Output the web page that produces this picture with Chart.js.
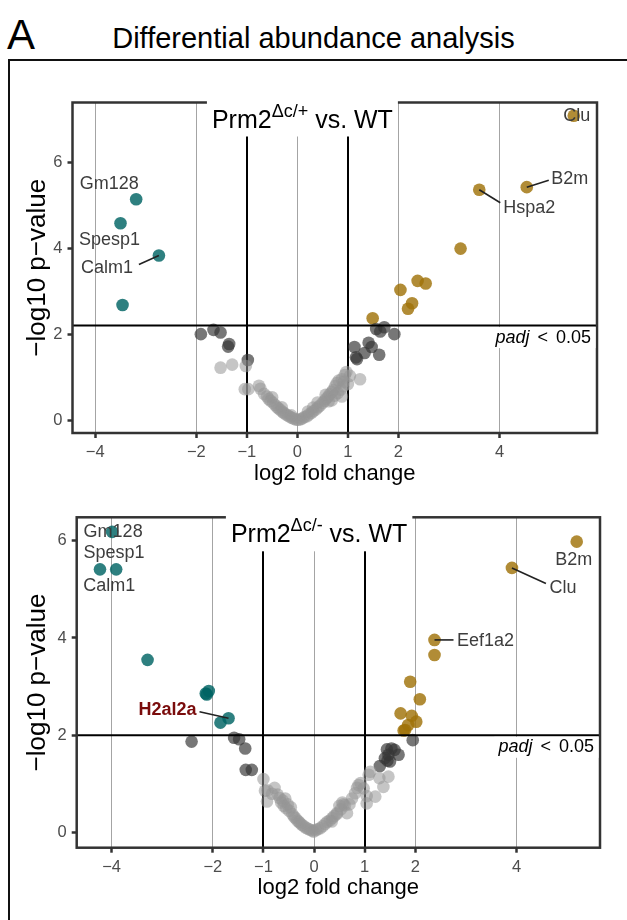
<!DOCTYPE html>
<html>
<head>
<meta charset="utf-8">
<script src="https://cdn.jsdelivr.net/npm/chart.js@4.4.1/dist/chart.umd.min.js"></script>
<style>
  body { margin: 0; width: 627px; height: 920px; overflow: hidden; background: #fff;
         font-family: "Liberation Sans", Arial, sans-serif; position: relative; }
  #tag { position: absolute; left: 7px; top: 14px; font-size: 42px; line-height: 1; color: #000; }
  #heading { position: absolute; left: 0; width: 627px; top: 24px; text-align: center;
             font-size: 29px; line-height: 1; color: #000; }
  #frame { position: absolute; left: 8px; top: 59px; width: 700px; height: 900px; border: 2.5px solid #111; }
  canvas { position: absolute; }
</style>
</head>
<body>
<div id="tag">A</div>
<div id="heading">Differential abundance analysis</div>
<div id="frame"></div>
<canvas id="het" width="616" height="438" style="left:11px; top:62px;"></canvas>
<canvas id="hom" width="616" height="420" style="left:11px; top:500px;"></canvas>
<script>
const FONT = '"Liberation Sans", Arial, sans-serif';

// axis ticks
const xTickValues = [-4, -2, -1, 0, 1, 2, 4];
const yTickValues = [0, 2, 4, 6];
const fcCutoffs = [-1, 1];

// Prm2 dc/+ vs WT
const hetNsX = [-1.52,-1.29,-1.02,-1.04,-0.97,-0.76,-0.73,-0.66,-0.60,-0.57,-0.53,-0.48,-0.44,-0.40,-0.37,-0.33,-0.29,-0.26,-0.22,-0.18,-0.14,-0.10,-0.06,-0.02,0.02,0.06,0.10,0.14,0.19,0.23,0.28,0.32,0.37,0.41,0.45,0.50,0.54,0.57,0.61,0.64,0.68,0.71,0.75,0.78,0.82,0.88,0.91,0.94,0.97,0.86,0.80,1.04,1.24,0.88,0.68,-0.31,-0.12,0.31,0.21,-0.50,0.40,0.56,0.74,0.92,1.00,0.62];
const hetNsY = [1.23,1.30,1.27,0.73,0.73,0.81,0.74,0.62,0.56,0.50,0.46,0.41,0.36,0.31,0.28,0.24,0.20,0.17,0.14,0.11,0.08,0.06,0.04,0.02,0.02,0.03,0.05,0.08,0.10,0.14,0.18,0.22,0.26,0.31,0.35,0.41,0.46,0.51,0.55,0.61,0.66,0.71,0.80,0.87,0.93,0.96,0.80,1.06,1.13,0.72,0.64,1.04,0.96,0.56,0.47,0.31,0.12,0.30,0.21,0.54,0.42,0.60,0.58,0.90,0.85,0.45];
const hetSigX = [-1.91,-1.66,-1.52,-1.35,-1.37,-0.98,1.56,1.64,1.72,1.92,1.13,1.41,1.47,1.33,1.62,1.16,1.18];
const hetSigY = [2.01,2.11,2.05,1.78,1.72,1.41,2.13,2.07,2.17,2.01,1.71,1.81,1.71,1.57,1.53,1.47,1.43];
const hetDownX = [-3.19,-3.50,-2.74,-3.46];
const hetDownY = [5.15,4.59,3.84,2.69];
const hetDownGenes = ['Gm128','Spesp1','Calm1',''];
const hetUpX = [5.47,4.54,3.60,3.23,2.38,2.54,2.04,2.27,2.19,1.49];
const hetUpY = [7.09,5.43,5.37,4.00,3.25,3.19,3.04,2.73,2.60,2.38];
const hetUpGenes = ['Clu','B2m','Hspa2','','','','','','',''];

// Prm2 dc/- vs WT
const homNsX = [-1.00,-0.97,-0.92,-0.93,-0.83,-0.78,-0.72,-0.68,-0.65,-0.62,-0.60,-0.57,-0.55,-0.52,-0.49,-0.46,-0.43,-0.40,-0.37,-0.33,-0.30,-0.27,-0.24,-0.20,-0.16,-0.12,-0.08,-0.04,-0.01,0.03,0.07,0.12,0.17,0.22,0.26,0.31,0.36,0.40,0.45,0.50,0.53,0.56,0.58,0.61,0.65,0.70,0.75,0.81,0.85,0.88,0.92,0.98,1.04,1.08,1.11,1.21,1.29,1.37,1.47,1.04,0.45,0.35];
const homNsY = [1.10,0.86,0.87,0.64,0.80,0.92,0.78,0.71,0.62,0.66,0.55,0.70,0.50,0.58,0.45,0.52,0.38,0.33,0.30,0.25,0.22,0.19,0.16,0.13,0.10,0.08,0.06,0.04,0.02,0.05,0.07,0.09,0.13,0.18,0.22,0.25,0.30,0.34,0.40,0.55,0.48,0.62,0.58,0.56,0.40,0.58,0.70,0.81,0.92,0.98,1.02,0.91,0.60,1.19,1.25,0.74,1.12,0.94,1.15,0.75,0.38,0.23];
const homSigX = [-2.42,-1.58,-1.48,-1.36,-1.35,-1.23,1.95,1.44,1.53,1.59,1.67,1.47,1.40,1.50,1.30,1.45];
const homSigY = [1.87,1.95,1.92,1.73,1.29,1.29,1.90,1.71,1.73,1.70,1.60,1.60,1.53,1.46,1.37,1.48];
const homDownX = [-3.99,-4.23,-3.91,-3.29,-2.14,-2.08,-2.12,-1.69,-1.85];
const homDownY = [6.18,5.41,5.41,3.55,2.86,2.91,2.84,2.35,2.26];
const homDownGenes = ['Gm128','Spesp1','Calm1','','','','','H2al2a',''];
const homUpX = [5.19,3.91,2.38,2.38,1.90,2.09,1.71,1.93,2.02,1.86,1.80,1.77];
const homUpY = [5.98,5.44,3.96,3.65,3.10,2.74,2.45,2.40,2.28,2.21,2.11,2.10];
const homUpGenes = ['B2m','Clu','Eef1a2','','','','','','','','',''];

// -log10 p cut for padj < 0.05
const hetPadjCut = 2.21;
const homPadjCut = 2.0;

// gene label placement (px offsets from the point)
const hetLabels = [
  { gene: 'Gm128', dx: -27, dy: -15 },
  { gene: 'Spesp1', dx: -11, dy: 17 },
  { gene: 'Calm1', dx: -52, dy: 13, seg: [-20, 9] },
  { gene: 'Clu', dx: 3, dy: 0 },
  { gene: 'B2m', dx: 43, dy: -8, seg: [22, -7] },
  { gene: 'Hspa2', dx: 50, dy: 18, seg: [21, 13] }
];
const homLabels = [
  { gene: 'Gm128', dx: 1, dy: 0 },
  { gene: 'Spesp1', dx: 14, dy: -16 },
  { gene: 'Calm1', dx: -7, dy: 17 },
  { gene: 'H2al2a', dx: -61, dy: -8, seg: [-29, -6.5], bold: true, color: '#7a0c0c' },
  { gene: 'B2m', dx: -3, dy: 18 },
  { gene: 'Clu', dx: 51, dy: 20, seg: [34, 15.5] },
  { gene: 'Eef1a2', dx: 51, dy: 1, seg: [19, 0] }
];

function pts(xs, ys, genes) {
  return xs.map((v, i) => ({ x: v, y: ys[i], gene: genes ? genes[i] : '' }));
}

const minus = v => String(v).replace('-', '\u2212');

// threshold line, panel box, panel title, padj tag, gene labels
const volcanoDecor = {
  id: 'volcanoDecor',
  afterDatasetsDraw(chart, args, o) {
    const { ctx, chartArea: a, scales: { x, y } } = chart;
    ctx.save();

    const ty = y.getPixelForValue(o.threshold);
    ctx.strokeStyle = '#000';
    ctx.lineWidth = 2;
    ctx.beginPath(); ctx.moveTo(a.left, ty); ctx.lineTo(a.right, ty); ctx.stroke();

    ctx.strokeStyle = '#333';
    ctx.lineWidth = 2.5;
    ctx.strokeRect(a.left, a.top, a.right - a.left, a.bottom - a.top);

    // title with superscript
    ctx.textBaseline = 'alphabetic';
    ctx.textAlign = 'left';
    ctx.font = '25px ' + FONT;
    const w1 = ctx.measureText(o.title[0]).width;
    const w3 = ctx.measureText(o.title[2]).width;
    ctx.font = '18px ' + FONT;
    const w2 = ctx.measureText(o.title[1]).width;
    const tw = w1 + w2 + w3;
    const tl = x.getPixelForValue(o.titleAt) - tw / 2;
    ctx.fillStyle = '#fff';
    ctx.fillRect(tl - 5, a.top - 3, tw + 10, 37);
    const base = a.top + 25;
    ctx.fillStyle = '#000';
    ctx.font = '25px ' + FONT;
    ctx.fillText(o.title[0], tl, base);
    ctx.fillText(o.title[2], tl + w1 + w2, base);
    ctx.font = '18px ' + FONT;
    ctx.fillText(o.title[1], tl + w1, base - 11);

    // padj < 0.05
    const gap = 8;
    ctx.font = 'italic 18px ' + FONT;
    const pw = ctx.measureText('padj').width;
    ctx.font = '18px ' + FONT;
    const lw = ctx.measureText('<').width;
    const nw = ctx.measureText('0.05').width;
    const total = pw + gap + lw + gap + nw;
    const pl = a.right - 6 - total;
    ctx.fillStyle = '#fff';
    ctx.fillRect(pl - 4, ty + 1.5, total + 8.5, 21);
    ctx.fillStyle = '#000';
    ctx.fillText('<', pl + pw + gap, ty + 17);
    ctx.fillText('0.05', pl + pw + gap + lw + gap, ty + 17);
    ctx.font = 'italic 18px ' + FONT;
    ctx.fillText('padj', pl, ty + 17);

    // gene labels
    const all = chart.data.datasets.flatMap(d => d.data);
    o.labels.forEach(l => {
      const p = all.find(d => d.gene === l.gene);
      if (!p) return;
      const px = x.getPixelForValue(p.x), py = y.getPixelForValue(p.y);
      if (l.seg) {
        ctx.strokeStyle = '#222';
        ctx.lineWidth = 1.6;
        ctx.beginPath(); ctx.moveTo(px, py); ctx.lineTo(px + l.seg[0], py + l.seg[1]); ctx.stroke();
      }
      ctx.font = (l.bold ? 'bold ' : '') + '18px ' + FONT;
      ctx.fillStyle = l.color || '#3d3d3d';
      ctx.textAlign = 'center';
      ctx.textBaseline = 'middle';
      ctx.fillText(l.gene, px + l.dx, py + l.dy);
    });
    ctx.restore();
  }
};

function makeVolcano(id, c) {
  return new Chart(document.getElementById(id), {
    type: 'scatter',
    data: {
      datasets: [
        { data: pts(c.nsX, c.nsY), backgroundColor: 'rgba(150,150,150,0.55)' },
        { data: pts(c.sigX, c.sigY), backgroundColor: 'rgba(55,55,55,0.68)' },
        { data: pts(c.downX, c.downY, c.downGenes), backgroundColor: 'rgba(0,100,100,0.82)' },
        { data: pts(c.upX, c.upY, c.upGenes), backgroundColor: 'rgba(160,115,10,0.82)' }
      ]
    },
    options: {
      responsive: false,
      animation: false,
      devicePixelRatio: 1,
      layout: { padding: { left: 0, top: c.padTop, right: c.padRight, bottom: 0 } },
      elements: { point: { radius: 6.3, hoverRadius: 6.3, borderWidth: 0 } },
      events: [],
      plugins: {
        legend: { display: false },
        tooltip: { enabled: false },
        volcanoDecor: { threshold: c.cut, title: c.title, titleAt: 0.1, labels: c.labels }
      },
      scales: {
        x: {
          type: 'linear', min: c.xMin, max: c.xMax,
          afterBuildTicks: s => { s.ticks = xTickValues.map(v => ({ value: v })); },
          afterFit: s => { s.height = c.xAxisH; },
          border: { display: false },
          grid: {
            color: g => fcCutoffs.includes(g.tick.value) ? '#000' : '#9a9a9a',
            lineWidth: g => fcCutoffs.includes(g.tick.value) ? 2 : 0.9,
            tickColor: '#333', tickWidth: 2.5, tickLength: 5
          },
          ticks: { autoSkip: false, maxRotation: 0, padding: 5, color: '#4d4d4d',
                   font: { family: FONT, size: 16.5 }, callback: v => minus(v) },
          title: { display: true, text: 'log2 fold change', color: '#000',
                   font: { family: FONT, size: 22 }, padding: { bottom: c.xTitlePad } }
        },
        y: {
          type: 'linear', min: c.yMin, max: c.yMax,
          afterBuildTicks: s => { s.ticks = yTickValues.map(v => ({ value: v })); },
          afterFit: s => { s.width = c.yAxisW; },
          border: { display: false },
          grid: { drawOnChartArea: false, tickColor: '#333', tickWidth: 2.5, tickLength: 5 },
          ticks: { padding: 5, color: '#4d4d4d', font: { family: FONT, size: 16.5 } },
          title: { display: true, text: '\u2212log10 p\u2212value', color: '#000',
                   font: { family: FONT, size: 26 }, padding: { top: 11 } }
        }
      }
    },
    plugins: [volcanoDecor]
  });
}

makeVolcano('het', {
  nsX: hetNsX, nsY: hetNsY, sigX: hetSigX, sigY: hetSigY,
  downX: hetDownX, downY: hetDownY, downGenes: hetDownGenes,
  upX: hetUpX, upY: hetUpY, upGenes: hetUpGenes,
  cut: hetPadjCut, labels: hetLabels, title: ['Prm2', '\u0394c/+', ' vs. WT'],
  xMin: -4.45, xMax: 5.93, yMin: -0.29, yMax: 7.40,
  padTop: 40.5, padRight: 30, yAxisW: 61.5, xAxisH: 67, xTitlePad: 12.8
});

makeVolcano('hom', {
  nsX: homNsX, nsY: homNsY, sigX: homSigX, sigY: homSigY,
  downX: homDownX, downY: homDownY, downGenes: homDownGenes,
  upX: homUpX, upY: homUpY, upGenes: homUpGenes,
  cut: homPadjCut, labels: homLabels, title: ['Prm2', '\u0394c/-', ' vs. WT'],
  xMin: -4.69, xMax: 5.65, yMin: -0.31, yMax: 6.48,
  padTop: 17.3, padRight: 27, yAxisW: 65.7, xAxisH: 72.3, xTitlePad: 18.6
});
</script>
</body>
</html>
